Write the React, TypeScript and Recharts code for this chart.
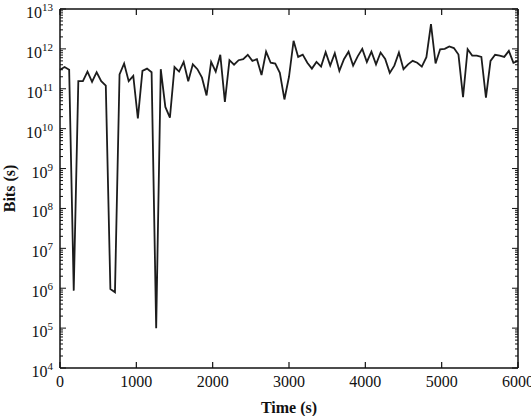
import React from "react";
import { LineChart, Line, XAxis, YAxis, Label } from "recharts";

const times = [
  0, 60, 120, 180, 240, 300, 360, 420, 480, 540,
  600, 660, 720, 780, 840, 900, 960, 1020, 1080, 1140,
  1200, 1260, 1320, 1380, 1440, 1500, 1560, 1620, 1680, 1740,
  1800, 1860, 1920, 1980, 2040, 2100, 2160, 2220, 2280, 2340,
  2400, 2460, 2520, 2580, 2640, 2700, 2760, 2820, 2880, 2940,
  3000, 3060, 3120, 3180, 3240, 3300, 3360, 3420, 3480, 3540,
  3600, 3660, 3720, 3780, 3840, 3900, 3960, 4020, 4080, 4140,
  4200, 4260, 4320, 4380, 4440, 4500, 4560, 4620, 4680, 4740,
  4800, 4860, 4920, 4980, 5040, 5100, 5160, 5220, 5280, 5340,
  5400, 5460, 5520, 5580, 5640, 5700, 5760, 5820, 5880, 5940,
  6000,
];

const bits = [
  3.0e11, 3.5e11, 3.0e11, 8.7e5, 1.55e11, 1.55e11, 2.7e11, 1.5e11, 2.6e11, 1.55e11,
  1.2e11, 9.5e5, 7.9e5, 2.3e11, 4.3e11, 1.55e11, 2.1e11, 1.8e10, 2.8e11, 3.2e11,
  2.6e11, 1.0e5, 3.1e11, 3.5e10, 1.9e10, 3.5e11, 2.7e11, 4.7e11, 1.55e11, 4.1e11,
  3.1e11, 1.9e11, 6.8e10, 4.7e11, 2.7e11, 7.1e11, 4.7e10, 5.2e11, 4.0e11, 5.2e11,
  5.5e11, 7.1e11, 5.0e11, 5.5e11, 2.2e11, 8.5e11, 4.5e11, 4.3e11, 2.5e11, 5.4e10,
  2.0e11, 1.6e12, 6.3e11, 7.2e11, 4.5e11, 3.2e11, 4.7e11, 3.6e11, 8.3e11, 3.8e11,
  7.8e11, 2.8e11, 5.5e11, 8.5e11, 3.8e11, 6.5e11, 1.0e12, 4.7e11, 8.5e11, 4.1e11,
  8.1e11, 5.6e11, 2.5e11, 3.8e11, 8.1e11, 3.1e11, 4.1e11, 5.0e11, 4.5e11, 3.6e11,
  6.2e11, 4.2e12, 4.3e11, 9.8e11, 1.0e12, 1.15e12, 1.05e12, 7.2e11, 6.2e10, 9.8e11,
  6.8e11, 6.8e11, 6.3e11, 6.0e10, 5.0e11, 7.1e11, 6.8e11, 6.3e11, 8.9e11, 4.5e11,
  5.0e11,
];

const xTicks = [0, 1000, 2000, 3000, 4000, 5000, 6000];
const yDecades = [1e4, 1e5, 1e6, 1e7, 1e8, 1e9, 1e10, 1e11, 1e12, 1e13];
const minorMultipliers = [2, 3, 4, 5, 6, 7, 8, 9];

const yTicks: number[] = [];
yDecades.forEach((d, i) => {
  yTicks.push(d);
  if (i < yDecades.length - 1) minorMultipliers.forEach((m) => yTicks.push(d * m));
});

const data = times.map((t, i) => ({ t, bits: bits[i] }));

const FONT = "'Liberation Serif', 'Times New Roman', Times, serif";
const INK = "#111";
const textStyle: React.CSSProperties = { fontFamily: FONT, fill: INK };

const isDecade = (v: number) => {
  const l = Math.log10(v);
  return Math.abs(l - Math.round(l)) < 1e-6;
};

const XTickBottom = (props: any) => {
  const { x, y, payload } = props;
  return (
    <g>
      <line x1={x} x2={x} y1={y} y2={y - 6} stroke={INK} strokeWidth={1.2} />
      <text x={x} y={y + 19} textAnchor="middle" style={{ ...textStyle, fontSize: 16 }}>
        {payload.value}
      </text>
    </g>
  );
};

const XTickTop = (props: any) => {
  const { x, y } = props;
  return <line x1={x} x2={x} y1={y} y2={y + 6} stroke={INK} strokeWidth={1.2} />;
};

const YTickLeft = (props: any) => {
  const { x, y, payload } = props;
  const major = isDecade(payload.value);
  const exp = Math.round(Math.log10(payload.value));
  return (
    <g>
      <line x1={x} x2={x + (major ? 6 : 3)} y1={y} y2={y} stroke={INK} strokeWidth={1} />
      {major && (
        <text x={x - 7} y={y + 9} textAnchor="end" style={textStyle}>
          <tspan style={{ fontSize: 16 }}>10</tspan>
          <tspan style={{ fontSize: 11 }} dy={-7}>{exp}</tspan>
        </text>
      )}
    </g>
  );
};

const YTickRight = (props: any) => {
  const { x, y, payload } = props;
  const major = isDecade(payload.value);
  return <line x1={x} x2={x - (major ? 6 : 3)} y1={y} y2={y} stroke={INK} strokeWidth={1} />;
};

export default function App() {
  return (
    <div style={{ position: "absolute", left: 0, top: 0, background: "#fff", fontFamily: FONT }}>
      <LineChart
        width={531}
        height={416}
        data={data}
        margin={{ top: 0, right: 0, bottom: 0, left: 0 }}
        style={{ fontFamily: FONT }}
      >
        <XAxis
          xAxisId="bottom"
          dataKey="t"
          type="number"
          domain={[0, 6000]}
          ticks={xTicks}
          interval={0}
          height={48}
          tickSize={0}
          tickMargin={0}
          tickLine={false}
          tick={<XTickBottom />}
          axisLine={{ stroke: INK, strokeWidth: 1.5 }}
        >
          <Label
            content={(p: any) => {
              const vb = p.viewBox || { x: 60, y: 368, width: 458, height: 48 };
              return (
                <text
                  x={vb.x + vb.width / 2}
                  y={vb.y + vb.height - 3}
                  textAnchor="middle"
                  style={{ ...textStyle, fontSize: 16, fontWeight: "bold" }}
                >
                  Time (s)
                </text>
              );
            }}
          />
        </XAxis>
        <XAxis
          xAxisId="top"
          orientation="top"
          dataKey="t"
          type="number"
          domain={[0, 6000]}
          ticks={xTicks}
          interval={0}
          height={9}
          tickSize={0}
          tickMargin={0}
          tickLine={false}
          tick={<XTickTop />}
          axisLine={{ stroke: INK, strokeWidth: 1.5 }}
        />
        <YAxis
          yAxisId="left"
          type="number"
          scale="log"
          domain={[1e4, 1e13]}
          allowDataOverflow
          ticks={yTicks}
          interval={0}
          width={60}
          tickSize={0}
          tickMargin={0}
          tickLine={false}
          tick={<YTickLeft />}
          axisLine={{ stroke: INK, strokeWidth: 1.5 }}
        >
          <Label
            content={(p: any) => {
              const vb = p.viewBox || { x: 0, y: 9, width: 60, height: 359 };
              const cy = vb.y + vb.height / 2;
              return (
                <text
                  transform={`translate(15, ${cy}) rotate(-90)`}
                  textAnchor="middle"
                  style={{ ...textStyle, fontSize: 16, fontWeight: "bold" }}
                >
                  Bits (s)
                </text>
              );
            }}
          />
        </YAxis>
        <YAxis
          yAxisId="right"
          orientation="right"
          type="number"
          scale="log"
          domain={[1e4, 1e13]}
          allowDataOverflow
          ticks={yTicks}
          interval={0}
          width={13}
          tickSize={0}
          tickMargin={0}
          tickLine={false}
          tick={<YTickRight />}
          axisLine={{ stroke: INK, strokeWidth: 1.5 }}
        />
        <Line
          xAxisId="top"
          yAxisId="right"
          dataKey="bits"
          stroke="none"
          dot={false}
          activeDot={false}
          isAnimationActive={false}
        />
        <Line
          xAxisId="bottom"
          yAxisId="left"
          type="linear"
          dataKey="bits"
          stroke="#1c1c1c"
          strokeWidth={1.8}
          strokeLinejoin="miter"
          dot={false}
          activeDot={false}
          isAnimationActive={false}
        />
      </LineChart>
    </div>
  );
}
